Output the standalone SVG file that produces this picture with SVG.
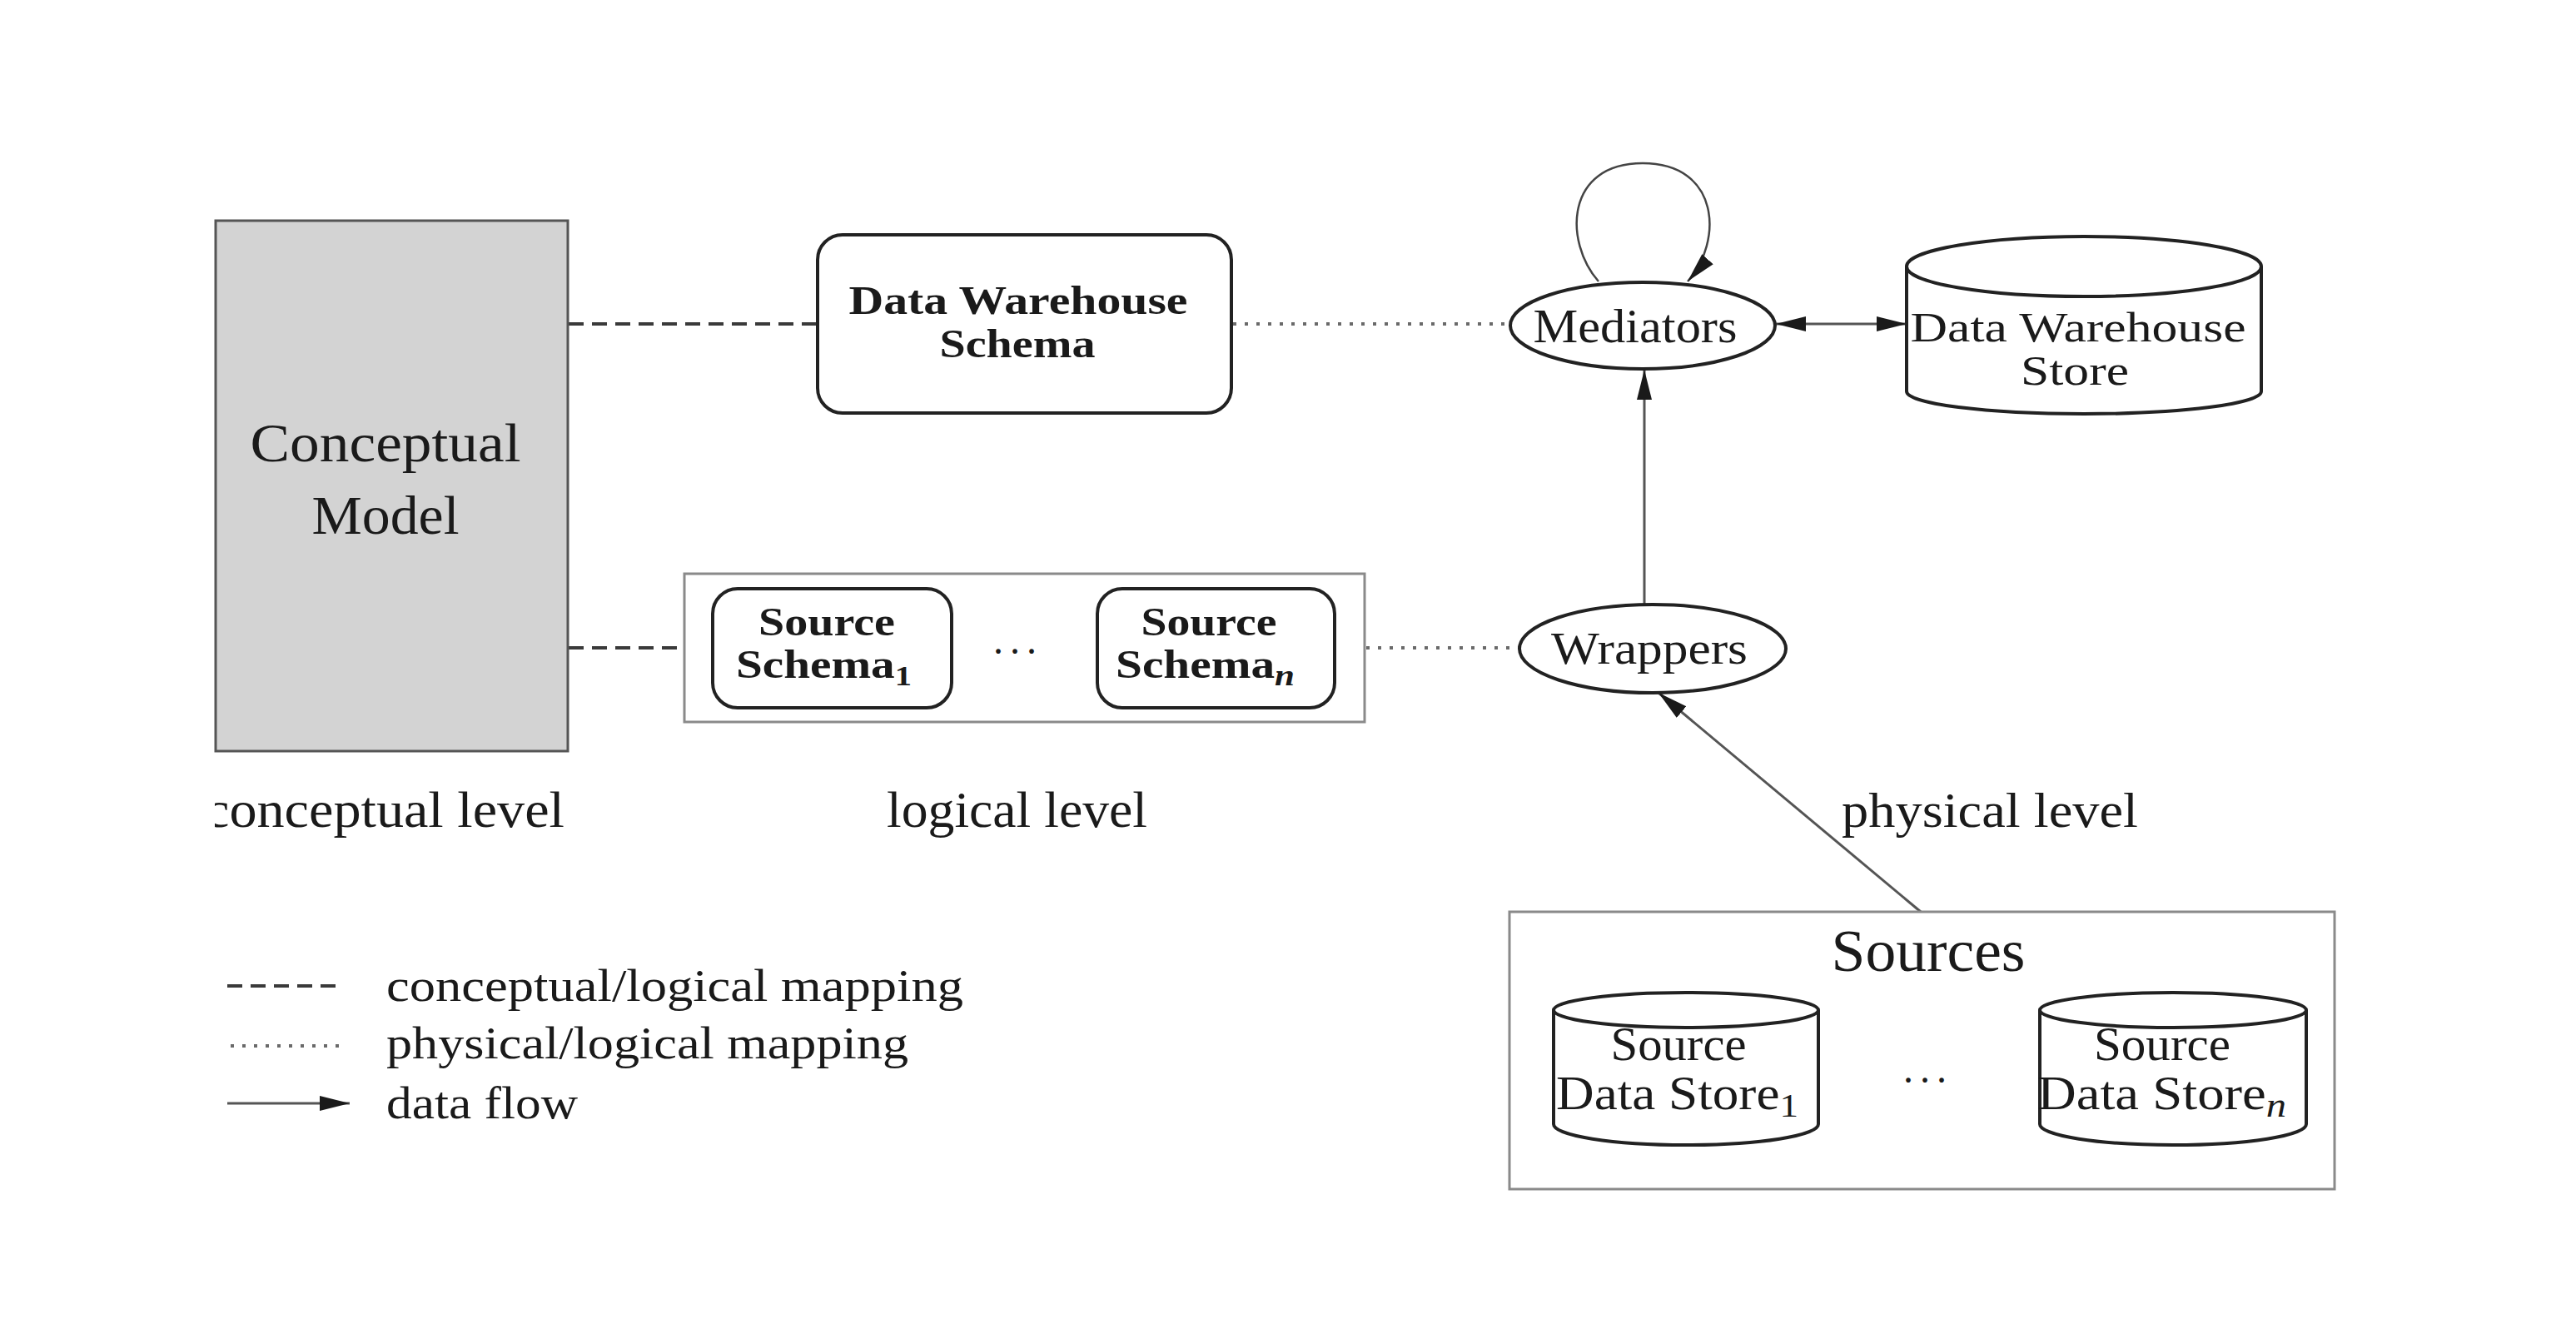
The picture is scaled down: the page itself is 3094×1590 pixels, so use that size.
<svg xmlns="http://www.w3.org/2000/svg" width="3094" height="1590" viewBox="0 0 3094 1590">
<style>
text{font-family:"Liberation Serif","Times New Roman",serif;fill:#1a1a1a}
.b{font-weight:bold}
.box{fill:#fff;stroke:#222;stroke-width:4}
.frame{fill:#fff;stroke:#8a8a8a;stroke-width:3}
.dash{stroke:#3a3a3a;stroke-width:4;stroke-dasharray:18 10;fill:none}
.dot{stroke:#6a6a6a;stroke-width:4;stroke-dasharray:4 10;fill:none}
.flow{stroke:#555;stroke-width:3;fill:none}
</style>
<defs>
<marker id="arr" markerUnits="userSpaceOnUse" markerWidth="38" markerHeight="20" refX="36" refY="10" orient="auto-start-reverse"><path d="M0,1 L36,10 L0,19 Z" fill="#1a1a1a"/></marker>
<clipPath id="clipL"><rect x="258" y="900" width="600" height="150"/></clipPath>
</defs>
<rect width="3094" height="1590" fill="#fff"/>

<g id="connectors">
<line class="dash" x1="683" y1="389" x2="982" y2="389"/>
<line class="dash" x1="683" y1="778" x2="822" y2="778"/>
<line class="dot" x1="1481" y1="389" x2="1813" y2="389"/>
<line class="dot" x1="1641" y1="778" x2="1825" y2="778"/>
<line class="flow" x1="2133" y1="389" x2="2290" y2="389" marker-start="url(#arr)" marker-end="url(#arr)"/>
<line class="flow" x1="1975" y1="725" x2="1975" y2="444" marker-end="url(#arr)"/>
<line class="flow" x1="2307" y1="1095" x2="1992" y2="832" marker-end="url(#arr)"/>
<path d="M1920,338 C1878,290 1880,196 1973,196 C2066,196 2070,290 2027,338" fill="none" stroke="#444" stroke-width="2.5" marker-end="url(#arr)"/>
</g>

<g id="conceptual-model">
<rect x="259" y="265" width="423" height="637" fill="#d3d3d3" stroke="#555" stroke-width="3"/>
<text x="463" y="554" font-size="66" text-anchor="middle" textLength="325" lengthAdjust="spacingAndGlyphs">Conceptual</text>
<text x="463" y="641" font-size="66" text-anchor="middle" textLength="177" lengthAdjust="spacingAndGlyphs">Model</text>
</g>

<g id="dw-schema">
<rect class="box" x="982" y="282" width="497" height="214" rx="30"/>
<text class="b" x="1223" y="377" font-size="48" text-anchor="middle" textLength="407" lengthAdjust="spacingAndGlyphs">Data Warehouse</text>
<text class="b" x="1222" y="429" font-size="48" text-anchor="middle" textLength="187" lengthAdjust="spacingAndGlyphs">Schema</text>
</g>

<g id="source-schemas">
<rect class="frame" x="822" y="689" width="817" height="178"/>
<g id="source-schema-1">
<rect class="box" x="856" y="707" width="287" height="143" rx="30"/>
<text class="b" x="993" y="763" font-size="48" text-anchor="middle" textLength="164" lengthAdjust="spacingAndGlyphs">Source</text>
<text class="b" x="884" y="814" font-size="48" textLength="211" lengthAdjust="spacingAndGlyphs">Schema<tspan font-size="34" dy="9">1</tspan></text>
</g>
<text x="1223" y="785" font-size="48" text-anchor="middle" letter-spacing="8">...</text>
<g id="source-schema-n">
<rect class="box" x="1318" y="707" width="285" height="143" rx="30"/>
<text class="b" x="1452" y="763" font-size="48" text-anchor="middle" textLength="163" lengthAdjust="spacingAndGlyphs">Source</text>
<text class="b" x="1340" y="814" font-size="48" textLength="215" lengthAdjust="spacingAndGlyphs">Schema<tspan font-size="36" dy="9" font-style="italic">n</tspan></text>
</g>
</g>

<g id="mediators">
<ellipse class="box" cx="1973" cy="391" rx="159" ry="52"/>
<text x="1964" y="411" font-size="56" text-anchor="middle" textLength="245" lengthAdjust="spacingAndGlyphs">Mediators</text>
</g>

<g id="dw-store">
<path d="M2290,320 L2290,470 A213,27 0 0 0 2716,470 L2716,320" class="box"/>
<ellipse class="box" cx="2503" cy="320" rx="213" ry="36"/>
<text x="2496" y="410" font-size="50" text-anchor="middle" textLength="403" lengthAdjust="spacingAndGlyphs">Data Warehouse</text>
<text x="2492" y="462" font-size="50" text-anchor="middle" textLength="130" lengthAdjust="spacingAndGlyphs">Store</text>
</g>

<g id="wrappers">
<ellipse class="box" cx="1985" cy="779" rx="160" ry="53"/>
<text x="1981" y="797" font-size="55" text-anchor="middle" textLength="236" lengthAdjust="spacingAndGlyphs">Wrappers</text>
</g>

<g id="sources">
<rect class="frame" x="1813" y="1095" width="991" height="333"/>
<text x="2316" y="1166" font-size="72" text-anchor="middle" textLength="233" lengthAdjust="spacingAndGlyphs">Sources</text>
<g id="source-store-1">
<path d="M1866,1213 L1866,1350 A159,25 0 0 0 2184,1350 L2184,1213" class="box"/>
<ellipse class="box" cx="2025" cy="1213" rx="159" ry="21"/>
<text x="2016" y="1273" font-size="56" text-anchor="middle" textLength="163" lengthAdjust="spacingAndGlyphs">Source</text>
<text x="1869" y="1332" font-size="56" textLength="291" lengthAdjust="spacingAndGlyphs">Data Store<tspan font-size="40" dy="9">1</tspan></text>
</g>
<text x="2316" y="1300" font-size="48" text-anchor="middle" letter-spacing="8">...</text>
<g id="source-store-n">
<path d="M2450,1213 L2450,1350 A160,25 0 0 0 2770,1350 L2770,1213" class="box"/>
<ellipse class="box" cx="2610" cy="1213" rx="160" ry="21"/>
<text x="2597" y="1273" font-size="56" text-anchor="middle" textLength="164" lengthAdjust="spacingAndGlyphs">Source</text>
<text x="2447" y="1332" font-size="56" textLength="299" lengthAdjust="spacingAndGlyphs">Data Store<tspan font-size="42" dy="9" font-style="italic">n</tspan></text>
</g>
</g>

<g id="levels">
<text x="246" y="993" font-size="62" textLength="432" lengthAdjust="spacingAndGlyphs" clip-path="url(#clipL)">conceptual level</text>
<text x="1065" y="993" font-size="62" textLength="313" lengthAdjust="spacingAndGlyphs">logical level</text>
<text x="2212" y="993" font-size="60" textLength="356" lengthAdjust="spacingAndGlyphs">physical level</text>
</g>

<g id="legend">
<line class="dash" x1="273" y1="1184" x2="403" y2="1184"/>
<line class="dot" x1="277" y1="1256" x2="410" y2="1256"/>
<line class="flow" x1="273" y1="1325" x2="420" y2="1325" marker-end="url(#arr)"/>
<text x="464" y="1202" font-size="55" textLength="693" lengthAdjust="spacingAndGlyphs">conceptual/logical mapping</text>
<text x="464" y="1271" font-size="55" textLength="627" lengthAdjust="spacingAndGlyphs">physical/logical mapping</text>
<text x="464" y="1343" font-size="55" textLength="230" lengthAdjust="spacingAndGlyphs">data flow</text>
</g>
</svg>
